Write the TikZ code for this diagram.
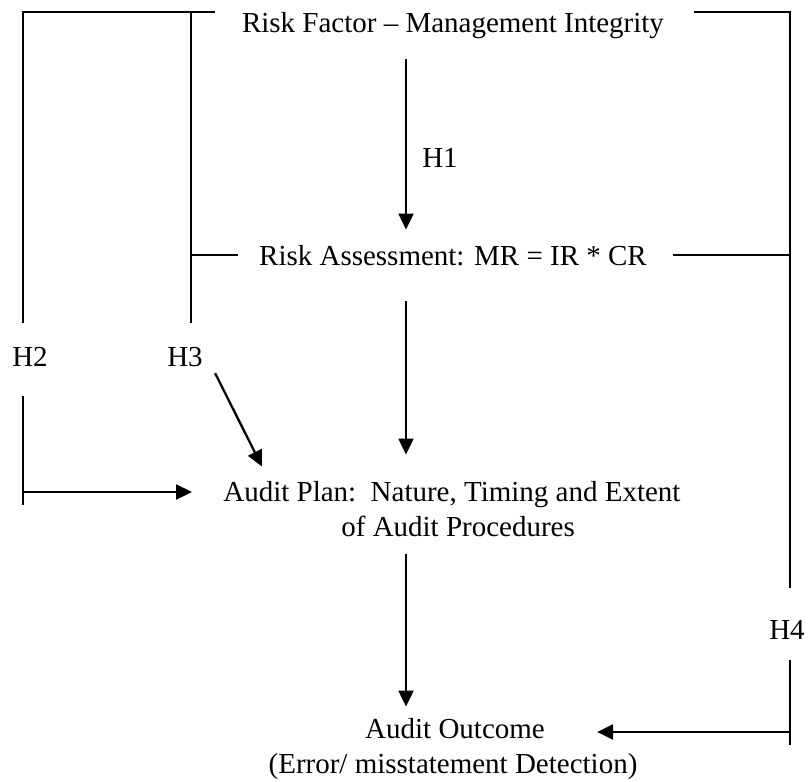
\documentclass[tikz,border=0pt]{standalone}
\usepackage{fontspec}
\setmainfont{Liberation Serif}
\usetikzlibrary{arrows.meta, positioning}

\tikzset{
  lbl/.style={font=\fontsize{16.5}{20}\selectfont, inner sep=0pt},
  ln/.style={line width=1.3pt},
  arr/.style={ln, -{Triangle[length=0.32cm, width=0.3cm]}}
}

\begin{document}
\begin{tikzpicture}[x=0.02cm, y=-0.02cm]
    \useasboundingbox (0,0) rectangle (811,781);

    % Texte der Kaesten
    \node[lbl, anchor=base] (risk) at (453,32) {Risk Factor – Management Integrity};
    \node[lbl, anchor=base] (assess) at (453,265) {Risk Assessment: MR = IR * CR};
    \node[lbl, anchor=base west] (plan1) at (223,501) {Audit Plan:\ \ Nature, Timing and Extent};
    \node[lbl, anchor=base west] (plan2) at (341,536) {of Audit Procedures};
    \node[lbl, anchor=base] (out1) at (455,738) {Audit Outcome};
    \node[lbl, anchor=base] (out2) at (453,773) {(Error/ misstatement Detection)};

    % Hypothesen
    \node[lbl] (h1) at (440,158) {H1};
    \node[lbl] (h2) at (30,357) {H2};
    \node[lbl] (h3) at (185,357) {H3};
    \node[lbl] (h4) at (787,630) {H4};

    % Eckpunkte der Linien
    \coordinate (mid) at (406,0);
    \coordinate (lx) at (23,0);
    \coordinate (mx) at (191,0);
    \coordinate (rx) at (790,0);

    % H1: Risk Factor -> Risk Assessment
    \draw[arr] ([yshift=-0.41cm]risk.south -| mid) -- ([yshift=0.3cm]assess.north -| mid);
    % Risk Assessment -> Audit Plan
    \draw[arr] ([yshift=-0.7cm]assess.south -| mid) -- ([yshift=0.52cm]plan1.north -| mid);
    % Audit Plan -> Audit Outcome
    \draw[arr] ([yshift=-0.34cm]plan2.south -| mid) -- ([yshift=0.22cm]out1.north -| mid);

    % H2 und H3 links
    \draw[ln] ([xshift=-0.54cm]risk.west |- 0,12) -- (lx |- 0,12) -- (lx |- 0,323);
    \draw[ln] (mx |- 0,12) -- (mx |- 0,323);
    \draw[ln] ([xshift=-0.42cm]assess.west) -- (mx |- assess.west);
    \draw[ln] (lx |- 0,396) -- (lx |- 0,505);
    \draw[arr] (lx |- 0,492) -- ([xshift=-0.62cm]plan1.west |- 0,492);
    \draw[arr] ([shift={(0.24cm,-0.12cm)}]h3.south east) -- ([shift={(0.78cm,0.28cm)}]plan1.north west);

    % H4 rechts
    \draw[ln] ([xshift=0.6cm]risk.east |- 0,12) -- (rx |- 0,12) -- (rx |- 0,588);
    \draw[ln] ([xshift=0.52cm]assess.east) -- (rx |- assess.east);
    \draw[ln] (rx |- 0,660) -- (rx |- 0,745);
    \draw[arr] (rx |- 0,732) -- ([xshift=1.04cm]out1.east |- 0,732);
\end{tikzpicture}
\end{document}
